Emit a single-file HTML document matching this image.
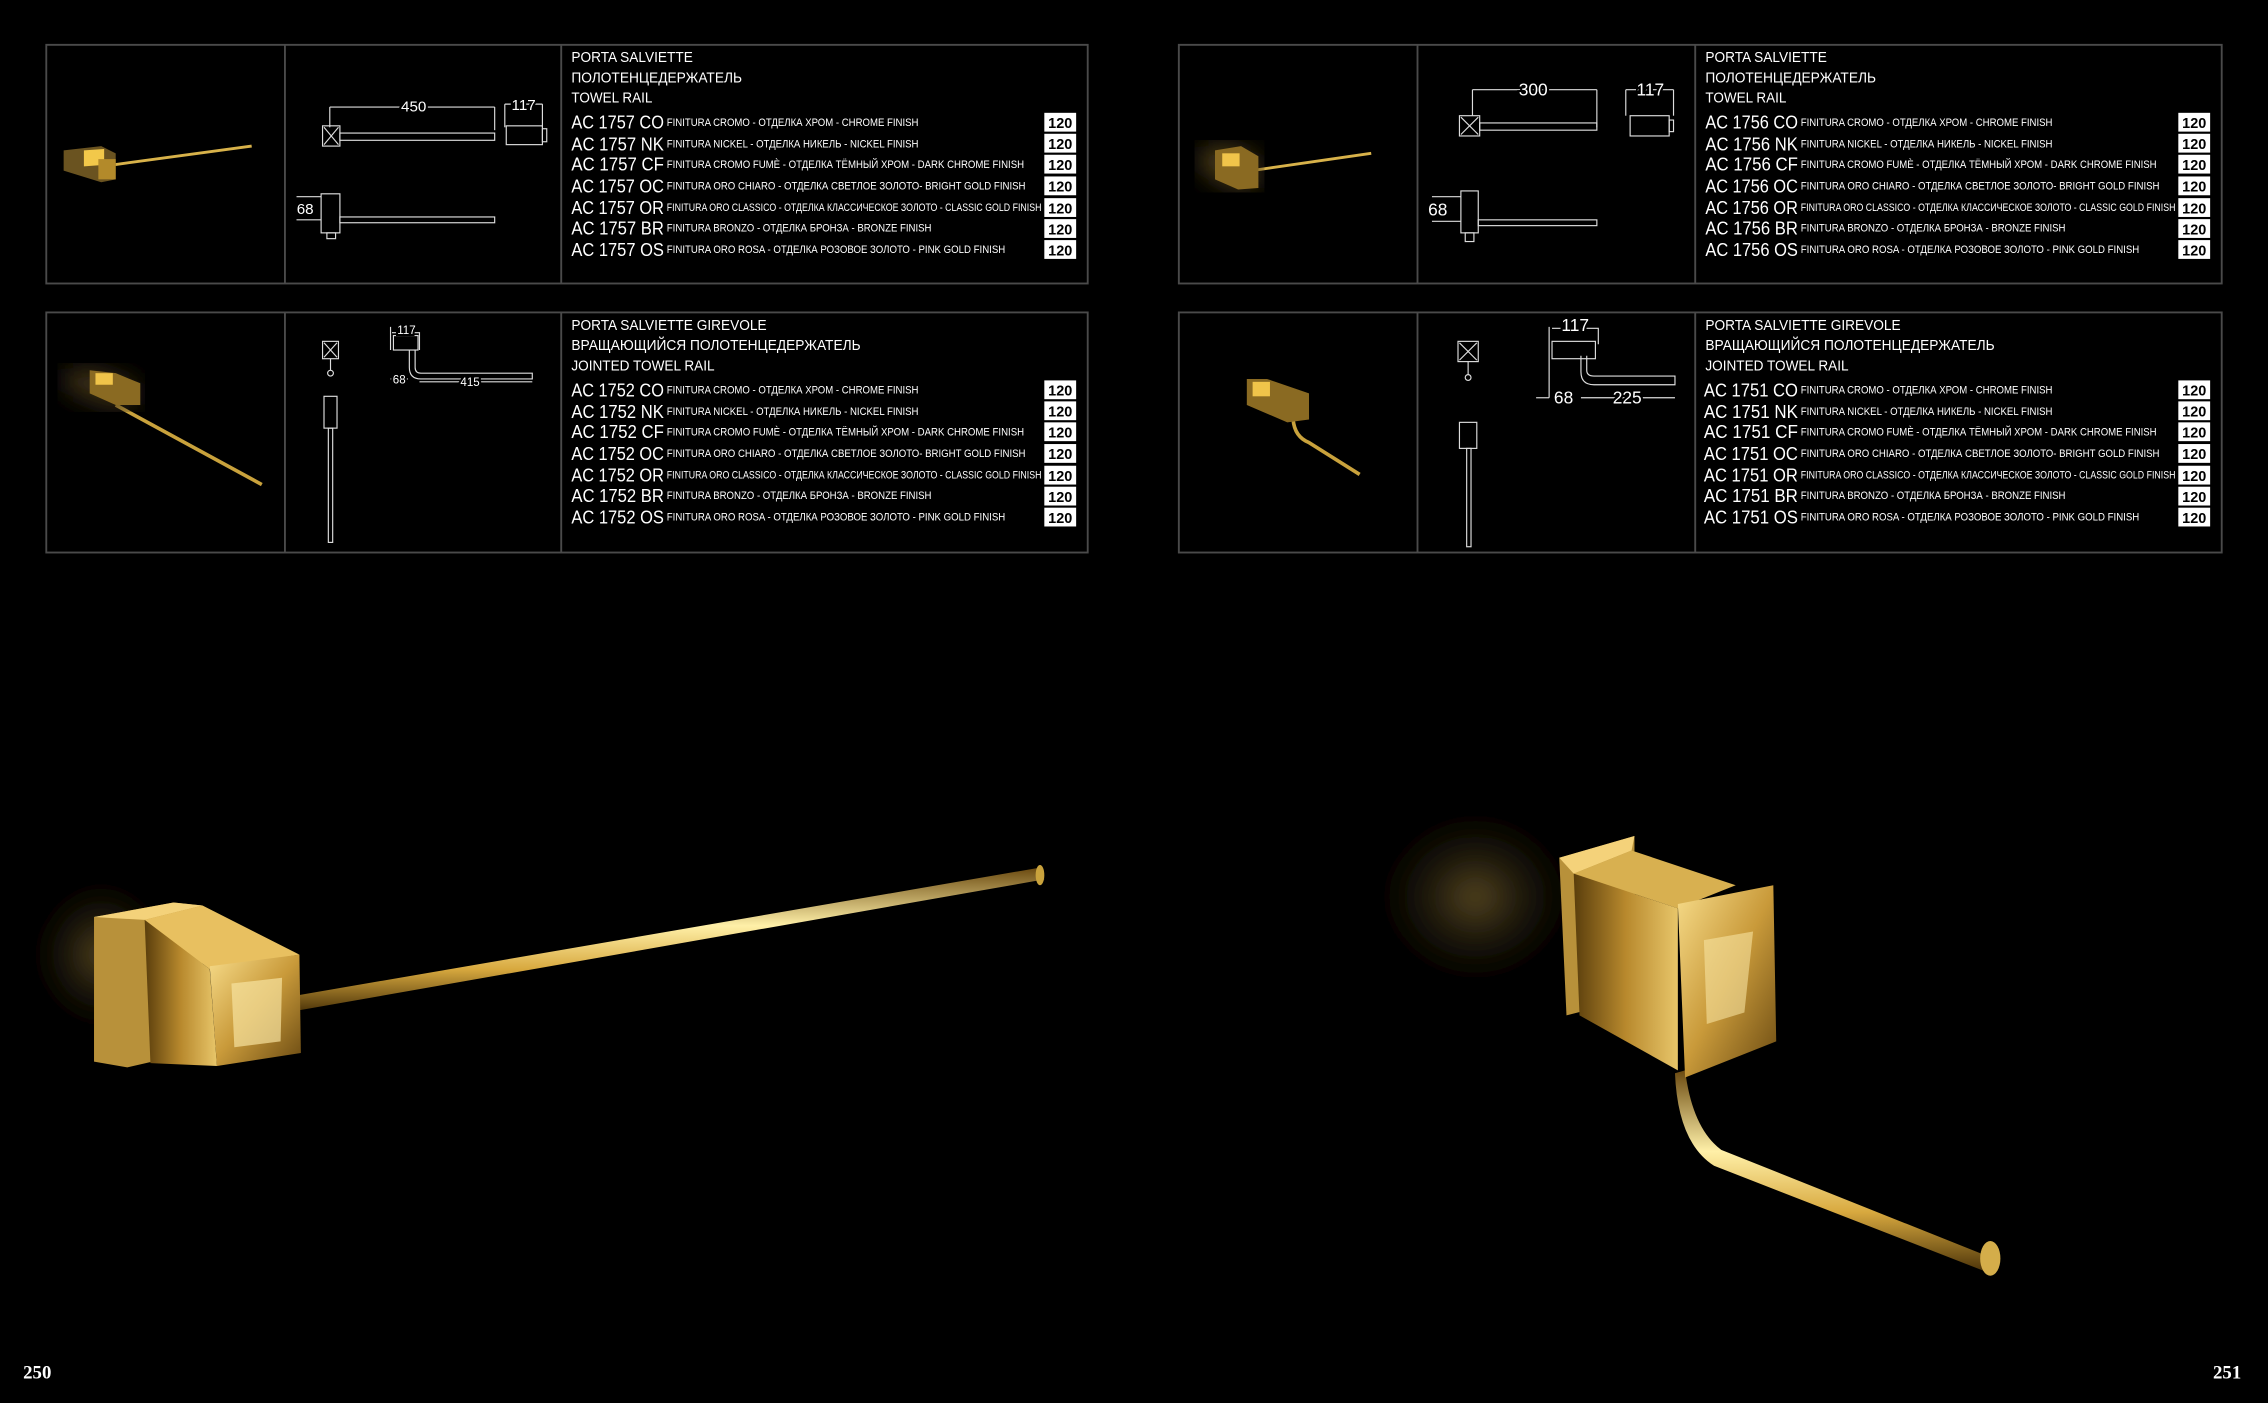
<!DOCTYPE html>
<html><head><meta charset="utf-8"><style>
html,body{margin:0;padding:0;background:#000;overflow:hidden}
svg{display:block}
text{font-family:"Liberation Sans","DejaVu Sans",sans-serif;fill:#fff}
</style></head><body>
<svg width="2268" height="1403" viewBox="0 0 1568 970" preserveAspectRatio="none" xmlns="http://www.w3.org/2000/svg">
<defs>
<linearGradient id="g1" x1="0" y1="0" x2="0" y2="1"><stop offset="0" stop-color="#6b4a10"/><stop offset=".4" stop-color="#fff0a8"/><stop offset=".7" stop-color="#d8a93f"/><stop offset="1" stop-color="#4a3208"/></linearGradient>
<linearGradient id="g2" x1="0" y1="0" x2="1" y2="1"><stop offset="0" stop-color="#f7dc8a"/><stop offset=".5" stop-color="#c99a3a"/><stop offset="1" stop-color="#6a4a12"/></linearGradient>
<linearGradient id="g3" x1="0" y1="0" x2="1" y2="0"><stop offset="0" stop-color="#5a3e0c"/><stop offset=".5" stop-color="#b8892d"/><stop offset="1" stop-color="#e8c66a"/></linearGradient>
<radialGradient id="glow" cx=".5" cy=".5" r=".5"><stop offset="0" stop-color="#6e5a2a" stop-opacity=".8"/><stop offset="1" stop-color="#000" stop-opacity="0"/></radialGradient>
<filter id="bl"><feGaussianBlur stdDeviation="8"/></filter>
</defs>
<rect width="1568" height="970" fill="#000"/>

<!-- panels -->
<g fill="none" stroke="#4a4a4a" stroke-width="1.3">
<rect x="32" y="31" width="720" height="165"/><line x1="197" y1="31" x2="197" y2="196"/><line x1="388" y1="31" x2="388" y2="196"/>
<rect x="32" y="216" width="720" height="166"/><line x1="197" y1="216" x2="197" y2="382"/><line x1="388" y1="216" x2="388" y2="382"/>
<rect x="815" y="31" width="721" height="165"/><line x1="980" y1="31" x2="980" y2="196"/><line x1="1172" y1="31" x2="1172" y2="196"/>
<rect x="815" y="216" width="721" height="166"/><line x1="980" y1="216" x2="980" y2="382"/><line x1="1172" y1="216" x2="1172" y2="382"/>
</g>

<!-- text blocks -->
<g font-size="10.5">
<text x="395" y="43" textLength="84" lengthAdjust="spacingAndGlyphs">PORTA SALVIETTE</text>
<text x="395" y="57" textLength="118" lengthAdjust="spacingAndGlyphs">ПОЛОТЕНЦЕДЕРЖАТЕЛЬ</text>
<text x="395" y="71" textLength="56" lengthAdjust="spacingAndGlyphs">TOWEL RAIL</text>
<text x="1179" y="43" textLength="84" lengthAdjust="spacingAndGlyphs">PORTA SALVIETTE</text>
<text x="1179" y="57" textLength="118" lengthAdjust="spacingAndGlyphs">ПОЛОТЕНЦЕДЕРЖАТЕЛЬ</text>
<text x="1179" y="71" textLength="56" lengthAdjust="spacingAndGlyphs">TOWEL RAIL</text>
<text x="395" y="228" textLength="135" lengthAdjust="spacingAndGlyphs">PORTA SALVIETTE GIREVOLE</text>
<text x="395" y="242" textLength="200" lengthAdjust="spacingAndGlyphs">ВРАЩАЮЩИЙСЯ ПОЛОТЕНЦЕДЕРЖАТЕЛЬ</text>
<text x="395" y="256" textLength="99" lengthAdjust="spacingAndGlyphs">JOINTED TOWEL RAIL</text>
<text x="1179" y="228" textLength="135" lengthAdjust="spacingAndGlyphs">PORTA SALVIETTE GIREVOLE</text>
<text x="1179" y="242" textLength="200" lengthAdjust="spacingAndGlyphs">ВРАЩАЮЩИЙСЯ ПОЛОТЕНЦЕДЕРЖАТЕЛЬ</text>
<text x="1179" y="256" textLength="99" lengthAdjust="spacingAndGlyphs">JOINTED TOWEL RAIL</text>
</g>

<!-- Panel 1 rows -->
<g font-size="13">
<text x="395" y="89" textLength="64" lengthAdjust="spacingAndGlyphs">AC 1757 CO</text>
<text x="395" y="104" textLength="64" lengthAdjust="spacingAndGlyphs">AC 1757 NK</text>
<text x="395" y="118" textLength="64" lengthAdjust="spacingAndGlyphs">AC 1757 CF</text>
<text x="395" y="133" textLength="64" lengthAdjust="spacingAndGlyphs">AC 1757 OC</text>
<text x="395" y="148" textLength="64" lengthAdjust="spacingAndGlyphs">AC 1757 OR</text>
<text x="395" y="162" textLength="64" lengthAdjust="spacingAndGlyphs">AC 1757 BR</text>
<text x="395" y="177" textLength="64" lengthAdjust="spacingAndGlyphs">AC 1757 OS</text>
<text x="395" y="274" textLength="64" lengthAdjust="spacingAndGlyphs">AC 1752 CO</text>
<text x="395" y="289" textLength="64" lengthAdjust="spacingAndGlyphs">AC 1752 NK</text>
<text x="395" y="303" textLength="64" lengthAdjust="spacingAndGlyphs">AC 1752 CF</text>
<text x="395" y="318" textLength="64" lengthAdjust="spacingAndGlyphs">AC 1752 OC</text>
<text x="395" y="333" textLength="64" lengthAdjust="spacingAndGlyphs">AC 1752 OR</text>
<text x="395" y="347" textLength="64" lengthAdjust="spacingAndGlyphs">AC 1752 BR</text>
<text x="395" y="362" textLength="64" lengthAdjust="spacingAndGlyphs">AC 1752 OS</text>
<text x="1179" y="89" textLength="64" lengthAdjust="spacingAndGlyphs">AC 1756 CO</text>
<text x="1179" y="104" textLength="64" lengthAdjust="spacingAndGlyphs">AC 1756 NK</text>
<text x="1179" y="118" textLength="64" lengthAdjust="spacingAndGlyphs">AC 1756 CF</text>
<text x="1179" y="133" textLength="64" lengthAdjust="spacingAndGlyphs">AC 1756 OC</text>
<text x="1179" y="148" textLength="64" lengthAdjust="spacingAndGlyphs">AC 1756 OR</text>
<text x="1179" y="162" textLength="64" lengthAdjust="spacingAndGlyphs">AC 1756 BR</text>
<text x="1179" y="177" textLength="64" lengthAdjust="spacingAndGlyphs">AC 1756 OS</text>
<text x="1178" y="274" textLength="65" lengthAdjust="spacingAndGlyphs">AC 1751 CO</text>
<text x="1178" y="289" textLength="65" lengthAdjust="spacingAndGlyphs">AC 1751 NK</text>
<text x="1178" y="303" textLength="65" lengthAdjust="spacingAndGlyphs">AC 1751 CF</text>
<text x="1178" y="318" textLength="65" lengthAdjust="spacingAndGlyphs">AC 1751 OC</text>
<text x="1178" y="333" textLength="65" lengthAdjust="spacingAndGlyphs">AC 1751 OR</text>
<text x="1178" y="347" textLength="65" lengthAdjust="spacingAndGlyphs">AC 1751 BR</text>
<text x="1178" y="362" textLength="65" lengthAdjust="spacingAndGlyphs">AC 1751 OS</text>
</g>

<g font-size="7.5">
<text x="461" y="87" textLength="174" lengthAdjust="spacingAndGlyphs">FINITURA CROMO - ОТДЕЛКА ХРОМ - CHROME FINISH</text>
<text x="461" y="102" textLength="174" lengthAdjust="spacingAndGlyphs">FINITURA NICKEL - ОТДЕЛКА НИКЕЛЬ - NICKEL FINISH</text>
<text x="461" y="116" textLength="247" lengthAdjust="spacingAndGlyphs">FINITURA CROMO FUMÈ - ОТДЕЛКА ТЁМНЫЙ ХРОМ - DARK CHROME FINISH</text>
<text x="461" y="131" textLength="248" lengthAdjust="spacingAndGlyphs">FINITURA ORO CHIARO - ОТДЕЛКА СВЕТЛОЕ ЗОЛОТО- BRIGHT GOLD FINISH</text>
<text x="461" y="146" textLength="259" lengthAdjust="spacingAndGlyphs">FINITURA ORO CLASSICO - ОТДЕЛКА КЛАССИЧЕСКОЕ ЗОЛОТО - CLASSIC GOLD FINISH</text>
<text x="461" y="160" textLength="183" lengthAdjust="spacingAndGlyphs">FINITURA BRONZO - ОТДЕЛКА БРОНЗА - BRONZE FINISH</text>
<text x="461" y="175" textLength="234" lengthAdjust="spacingAndGlyphs">FINITURA ORO ROSA - ОТДЕЛКА РОЗОВОЕ ЗОЛОТО - PINK GOLD FINISH</text>

<text x="461" y="272" textLength="174" lengthAdjust="spacingAndGlyphs">FINITURA CROMO - ОТДЕЛКА ХРОМ - CHROME FINISH</text>
<text x="461" y="287" textLength="174" lengthAdjust="spacingAndGlyphs">FINITURA NICKEL - ОТДЕЛКА НИКЕЛЬ - NICKEL FINISH</text>
<text x="461" y="301" textLength="247" lengthAdjust="spacingAndGlyphs">FINITURA CROMO FUMÈ - ОТДЕЛКА ТЁМНЫЙ ХРОМ - DARK CHROME FINISH</text>
<text x="461" y="316" textLength="248" lengthAdjust="spacingAndGlyphs">FINITURA ORO CHIARO - ОТДЕЛКА СВЕТЛОЕ ЗОЛОТО- BRIGHT GOLD FINISH</text>
<text x="461" y="331" textLength="259" lengthAdjust="spacingAndGlyphs">FINITURA ORO CLASSICO - ОТДЕЛКА КЛАССИЧЕСКОЕ ЗОЛОТО - CLASSIC GOLD FINISH</text>
<text x="461" y="345" textLength="183" lengthAdjust="spacingAndGlyphs">FINITURA BRONZO - ОТДЕЛКА БРОНЗА - BRONZE FINISH</text>
<text x="461" y="360" textLength="234" lengthAdjust="spacingAndGlyphs">FINITURA ORO ROSA - ОТДЕЛКА РОЗОВОЕ ЗОЛОТО - PINK GOLD FINISH</text>

<text x="1245" y="87" textLength="174" lengthAdjust="spacingAndGlyphs">FINITURA CROMO - ОТДЕЛКА ХРОМ - CHROME FINISH</text>
<text x="1245" y="102" textLength="174" lengthAdjust="spacingAndGlyphs">FINITURA NICKEL - ОТДЕЛКА НИКЕЛЬ - NICKEL FINISH</text>
<text x="1245" y="116" textLength="246" lengthAdjust="spacingAndGlyphs">FINITURA CROMO FUMÈ - ОТДЕЛКА ТЁМНЫЙ ХРОМ - DARK CHROME FINISH</text>
<text x="1245" y="131" textLength="248" lengthAdjust="spacingAndGlyphs">FINITURA ORO CHIARO - ОТДЕЛКА СВЕТЛОЕ ЗОЛОТО- BRIGHT GOLD FINISH</text>
<text x="1245" y="146" textLength="259" lengthAdjust="spacingAndGlyphs">FINITURA ORO CLASSICO - ОТДЕЛКА КЛАССИЧЕСКОЕ ЗОЛОТО - CLASSIC GOLD FINISH</text>
<text x="1245" y="160" textLength="183" lengthAdjust="spacingAndGlyphs">FINITURA BRONZO - ОТДЕЛКА БРОНЗА - BRONZE FINISH</text>
<text x="1245" y="175" textLength="234" lengthAdjust="spacingAndGlyphs">FINITURA ORO ROSA - ОТДЕЛКА РОЗОВОЕ ЗОЛОТО - PINK GOLD FINISH</text>

<text x="1245" y="272" textLength="174" lengthAdjust="spacingAndGlyphs">FINITURA CROMO - ОТДЕЛКА ХРОМ - CHROME FINISH</text>
<text x="1245" y="287" textLength="174" lengthAdjust="spacingAndGlyphs">FINITURA NICKEL - ОТДЕЛКА НИКЕЛЬ - NICKEL FINISH</text>
<text x="1245" y="301" textLength="246" lengthAdjust="spacingAndGlyphs">FINITURA CROMO FUMÈ - ОТДЕЛКА ТЁМНЫЙ ХРОМ - DARK CHROME FINISH</text>
<text x="1245" y="316" textLength="248" lengthAdjust="spacingAndGlyphs">FINITURA ORO CHIARO - ОТДЕЛКА СВЕТЛОЕ ЗОЛОТО- BRIGHT GOLD FINISH</text>
<text x="1245" y="331" textLength="259" lengthAdjust="spacingAndGlyphs">FINITURA ORO CLASSICO - ОТДЕЛКА КЛАССИЧЕСКОЕ ЗОЛОТО - CLASSIC GOLD FINISH</text>
<text x="1245" y="345" textLength="183" lengthAdjust="spacingAndGlyphs">FINITURA BRONZO - ОТДЕЛКА БРОНЗА - BRONZE FINISH</text>
<text x="1245" y="360" textLength="234" lengthAdjust="spacingAndGlyphs">FINITURA ORO ROSA - ОТДЕЛКА РОЗОВОЕ ЗОЛОТО - PINK GOLD FINISH</text>
</g>

<!-- badges -->
<g fill="#fff">
<rect x="722" y="78" width="22" height="13"/><rect x="722" y="92.5" width="22" height="13"/><rect x="722" y="107" width="22" height="13"/><rect x="722" y="122" width="22" height="13"/><rect x="722" y="137" width="22" height="13"/><rect x="722" y="151.5" width="22" height="13"/><rect x="722" y="166" width="22" height="13"/>
<rect x="722" y="263" width="22" height="13"/><rect x="722" y="277.5" width="22" height="13"/><rect x="722" y="292" width="22" height="13"/><rect x="722" y="307" width="22" height="13"/><rect x="722" y="322" width="22" height="13"/><rect x="722" y="336.5" width="22" height="13"/><rect x="722" y="351" width="22" height="13"/>
<rect x="1506" y="78" width="22" height="13"/><rect x="1506" y="92.5" width="22" height="13"/><rect x="1506" y="107" width="22" height="13"/><rect x="1506" y="122" width="22" height="13"/><rect x="1506" y="137" width="22" height="13"/><rect x="1506" y="151.5" width="22" height="13"/><rect x="1506" y="166" width="22" height="13"/>
<rect x="1506" y="263" width="22" height="13"/><rect x="1506" y="277.5" width="22" height="13"/><rect x="1506" y="292" width="22" height="13"/><rect x="1506" y="307" width="22" height="13"/><rect x="1506" y="322" width="22" height="13"/><rect x="1506" y="336.5" width="22" height="13"/><rect x="1506" y="351" width="22" height="13"/>
</g>
<g font-size="10" font-weight="bold" style="fill:#000" text-anchor="middle">
<text x="733" y="88.5" style="fill:#000">120</text><text x="733" y="103" style="fill:#000">120</text><text x="733" y="117.5" style="fill:#000">120</text><text x="733" y="132.5" style="fill:#000">120</text><text x="733" y="147.5" style="fill:#000">120</text><text x="733" y="162" style="fill:#000">120</text><text x="733" y="176.5" style="fill:#000">120</text>
<text x="733" y="273.5" style="fill:#000">120</text><text x="733" y="288" style="fill:#000">120</text><text x="733" y="302.5" style="fill:#000">120</text><text x="733" y="317.5" style="fill:#000">120</text><text x="733" y="332.5" style="fill:#000">120</text><text x="733" y="347" style="fill:#000">120</text><text x="733" y="361.5" style="fill:#000">120</text>
<text x="1517" y="88.5" style="fill:#000">120</text><text x="1517" y="103" style="fill:#000">120</text><text x="1517" y="117.5" style="fill:#000">120</text><text x="1517" y="132.5" style="fill:#000">120</text><text x="1517" y="147.5" style="fill:#000">120</text><text x="1517" y="162" style="fill:#000">120</text><text x="1517" y="176.5" style="fill:#000">120</text>
<text x="1517" y="273.5" style="fill:#000">120</text><text x="1517" y="288" style="fill:#000">120</text><text x="1517" y="302.5" style="fill:#000">120</text><text x="1517" y="317.5" style="fill:#000">120</text><text x="1517" y="332.5" style="fill:#000">120</text><text x="1517" y="347" style="fill:#000">120</text><text x="1517" y="361.5" style="fill:#000">120</text>
</g>

<!-- technical drawings -->
<g fill="none" stroke="#ddd" stroke-width="0.8">
<!-- P1 -->
<line x1="228" y1="74" x2="342" y2="74"/><line x1="228" y1="74" x2="228" y2="88"/><line x1="342" y1="74" x2="342" y2="90"/>
<rect x="223" y="87" width="12" height="14"/><path d="M224 88L234 100M234 88L224 100"/>
<rect x="235" y="92" width="107" height="5"/>
<line x1="349" y1="72" x2="375" y2="72"/><line x1="349" y1="72" x2="349" y2="88"/><line x1="375" y1="72" x2="375" y2="88"/>
<rect x="350" y="87" width="25" height="13"/><rect x="375" y="89" width="3" height="9"/>
<rect x="222" y="134" width="13" height="27"/><line x1="205" y1="136" x2="222" y2="136"/><line x1="205" y1="152" x2="222" y2="152"/>
<rect x="235" y="150" width="107" height="4"/><rect x="226" y="161" width="6" height="4"/>
<!-- P2 -->
<rect x="223" y="236" width="11" height="12"/><path d="M224 237L233 247M233 237L224 247"/><line x1="228.5" y1="248" x2="228.5" y2="256"/><circle cx="228.5" cy="258" r="2"/>
<rect x="224" y="274" width="9" height="22"/><rect x="227" y="296" width="3" height="79"/>
<path d="M270 226V242M271 230H290V242M283 242V254Q283 262 291 262H368V258H291Q287 258 287 254V242"/>
<rect x="272" y="232" width="17" height="10"/><line x1="270" y1="262" x2="282" y2="262"/><line x1="290" y1="264" x2="368" y2="264"/>
<!-- P3 -->
<line x1="1018" y1="62" x2="1104" y2="62"/><line x1="1018" y1="62" x2="1018" y2="80"/><line x1="1104" y1="62" x2="1104" y2="88"/>
<rect x="1009" y="80" width="14" height="14"/><path d="M1010 81L1022 93M1022 81L1010 93"/><rect x="1023" y="85" width="81" height="5"/>
<line x1="1124" y1="62" x2="1157" y2="62"/><line x1="1124" y1="62" x2="1124" y2="80"/><line x1="1157" y1="62" x2="1157" y2="80"/>
<rect x="1127" y="80" width="27" height="14"/><rect x="1154" y="83" width="3" height="8"/>
<rect x="1010" y="132" width="12" height="29"/><line x1="990" y1="136" x2="1010" y2="136"/><line x1="990" y1="153" x2="1010" y2="153"/>
<rect x="1022" y="152" width="82" height="4"/><rect x="1013" y="161" width="6" height="6"/>
<!-- P4 -->
<rect x="1008" y="236" width="14" height="14"/><path d="M1009 237L1021 249M1021 237L1009 249"/><line x1="1015" y1="250" x2="1015" y2="259"/><circle cx="1015" cy="261" r="2"/>
<rect x="1009" y="292" width="12" height="18"/><rect x="1014" y="310" width="3" height="68"/>
<path d="M1071 226V275M1073 227H1105V238M1093 246V257Q1093 266 1102 266H1158V260H1102Q1097 260 1097 256V246"/>
<rect x="1073" y="236" width="30" height="12"/><line x1="1062" y1="275" x2="1071" y2="275"/><line x1="1093" y1="275" x2="1158" y2="275"/>
</g>
<g font-size="10.5">
<text x="286" y="77" text-anchor="middle" style="fill:#fff;stroke:#000;stroke-width:3;paint-order:stroke">450</text>
<text x="362" y="76" text-anchor="middle" style="fill:#fff;stroke:#000;stroke-width:3;paint-order:stroke">117</text>
<text x="211" y="148" text-anchor="middle" style="fill:#fff;stroke:#000;stroke-width:3;paint-order:stroke">68</text>
<text x="281" y="231" text-anchor="middle" font-size="8" style="fill:#fff;stroke:#000;stroke-width:3;paint-order:stroke">117</text>
<text x="276" y="265" text-anchor="middle" font-size="8" style="fill:#fff;stroke:#000;stroke-width:3;paint-order:stroke">68</text>
<text x="325" y="267" text-anchor="middle" font-size="8" style="fill:#fff;stroke:#000;stroke-width:3;paint-order:stroke">415</text>
<text x="1060" y="66" text-anchor="middle" font-size="12" style="fill:#fff;stroke:#000;stroke-width:3;paint-order:stroke">300</text>
<text x="1141" y="66" text-anchor="middle" font-size="12" style="fill:#fff;stroke:#000;stroke-width:3;paint-order:stroke">117</text>
<text x="994" y="149" text-anchor="middle" font-size="12" style="fill:#fff;stroke:#000;stroke-width:3;paint-order:stroke">68</text>
<text x="1089" y="229" text-anchor="middle" font-size="12" style="fill:#fff;stroke:#000;stroke-width:3;paint-order:stroke">117</text>
<text x="1081" y="279" text-anchor="middle" font-size="12" style="fill:#fff;stroke:#000;stroke-width:3;paint-order:stroke">68</text>
<text x="1125" y="279" text-anchor="middle" font-size="12" style="fill:#fff;stroke:#000;stroke-width:3;paint-order:stroke">225</text>
</g>

<!-- thumbnails -->
<g>
<line x1="78" y1="114" x2="174" y2="101" stroke="#d8b24a" stroke-width="2"/>
<polygon points="44,104 70,101 80,106 80,124 70,126 44,118" fill="#6a5320"/><polygon points="58,104 72,103 72,114 58,115" fill="#f2c84a"/><rect x="68" y="110" width="12" height="14" fill="#b38a2a"/>
<line x1="80" y1="280" x2="181" y2="335" stroke="#c9a23c" stroke-width="2.5"/>
<polygon points="45,255 65,254 95,265 95,280 75,282 45,270" fill="#3a2e12" filter="url(#bl)"/>
<polygon points="62,256 80,258 97,265 97,280 80,280 62,272" fill="#8a6a22"/><rect x="66" y="258" width="12" height="8" fill="#f0c44a"/>
<line x1="865" y1="118" x2="948" y2="106" stroke="#d8b24a" stroke-width="2"/>
<polygon points="830,102 850,100 870,108 870,130 850,130 830,118" fill="#4a3a14" filter="url(#bl)"/>
<polygon points="840,104 858,101 870,108 870,130 856,131 840,124" fill="#8a6a22"/><rect x="845" y="106" width="12" height="9" fill="#f0c44a"/>
<path d="M894 290 Q895 302 905 306 L940 328" fill="none" stroke="#c9a23c" stroke-width="2.5"/>
<polygon points="862,262 876,262 905,272 905,290 890,292 862,280" fill="#8a6a22"/><rect x="866" y="264" width="12" height="10" fill="#f0c44a"/>
</g>

<!-- large photo left -->
<g>
<ellipse cx="70" cy="660" rx="55" ry="60" fill="url(#glow)" filter="url(#bl)"/>
<path d="M195 690 L718 600 L722 608 L198 700 Z" fill="url(#g1)"/>
<ellipse cx="719" cy="605" rx="3" ry="7" fill="#c9a23c"/>
<polygon points="65,634 120,624 140,626 140,726 88,738 65,734" fill="#b8913a"/>
<polygon points="65,634 120,624 140,626 100,636" fill="#f4d27a"/>
<polygon points="100,636 140,626 207,660 145,670" fill="#e8c060"/>
<polygon points="100,636 145,670 150,737 104,735" fill="url(#g3)"/>
<polygon points="145,668 207,660 208,728 150,737" fill="url(#g2)"/>
<polygon points="160,680 195,676 194,720 162,724" fill="#f6e2a0" opacity=".7"/>
</g>

<!-- large photo right -->
<g>
<ellipse cx="1020" cy="620" rx="80" ry="70" fill="url(#glow)" filter="url(#bl)"/>
<path d="M1165 740 Q1170 780 1190 795 L1378 870 L1375 880 L1185 806 Q1160 790 1158 742 Z" fill="url(#g1)"/>
<ellipse cx="1376" cy="870" rx="7" ry="12" fill="#d4ad4a"/>
<polygon points="1078,593 1130,578 1130,690 1083,702" fill="#b8913a"/>
<polygon points="1078,593 1130,578 1128,588 1088,604" fill="#f4d27a"/>
<polygon points="1088,604 1128,588 1200,612 1160,628" fill="#d8b050"/>
<polygon points="1088,604 1160,628 1160,740 1092,702" fill="url(#g3)"/>
<polygon points="1160,625 1226,612 1228,720 1165,745" fill="url(#g2)"/>
<polygon points="1178,650 1212,644 1206,700 1180,708" fill="#f6e2a0" opacity=".6"/>
</g>

<!-- page numbers -->
<g font-family="Liberation Serif,serif" font-size="13" font-weight="bold">
<text x="16" y="953" style="font-family:'Liberation Serif',serif">250</text>
<text x="1530" y="953" style="font-family:'Liberation Serif',serif">251</text>
</g>
</svg>
</body></html>
